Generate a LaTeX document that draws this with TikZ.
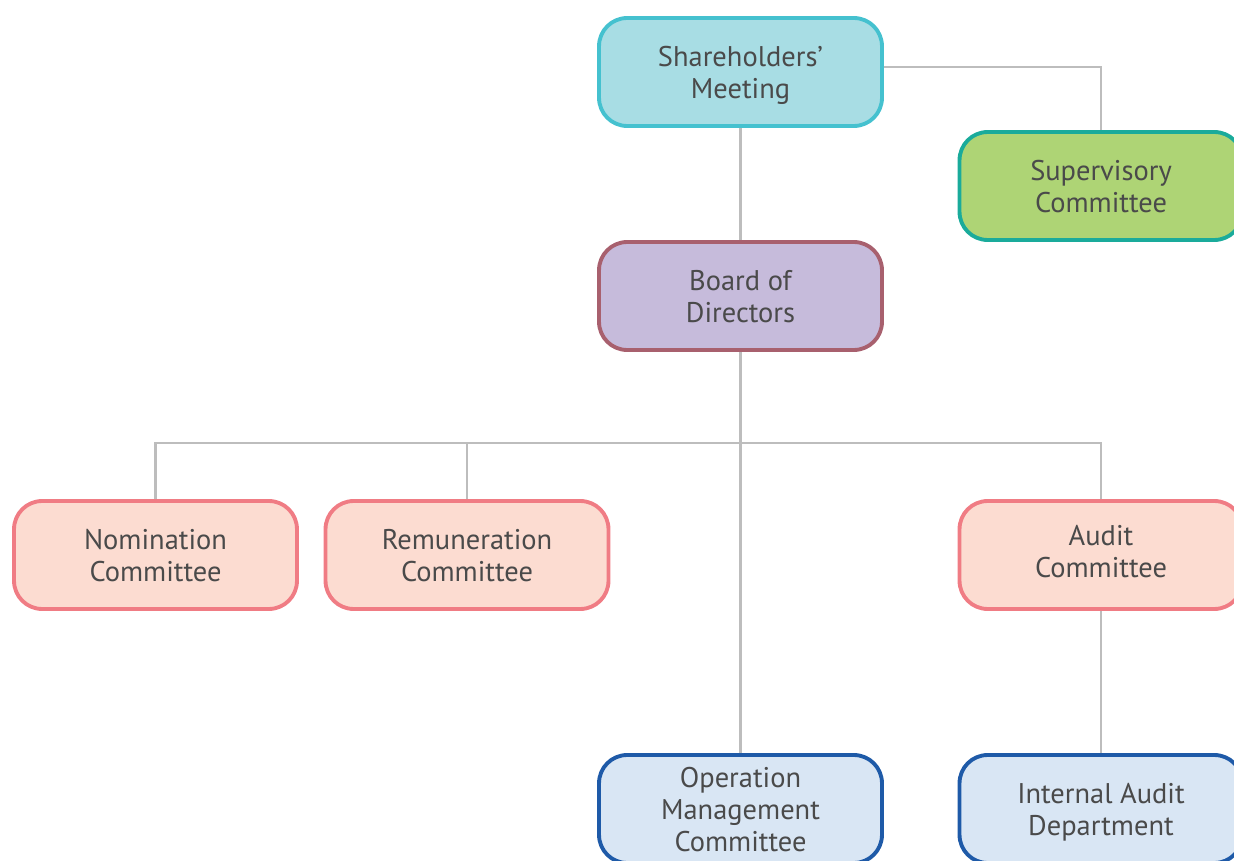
\documentclass[tikz,border=0pt]{standalone}
\usepackage{fontspec}
\setmainfont{PT Sans}
\usetikzlibrary{backgrounds}
\definecolor{txt}{HTML}{4A4A4A}
\definecolor{conn}{HTML}{BDBDBD}
\definecolor{shF}{HTML}{A8DDE4}\definecolor{shD}{HTML}{45C1CF}
\definecolor{suF}{HTML}{AED475}\definecolor{suD}{HTML}{1AAB9B}
\definecolor{boF}{HTML}{C6BBDB}\definecolor{boD}{HTML}{A8606E}
\definecolor{pkF}{HTML}{FCDCD1}\definecolor{pkD}{HTML}{F07C84}
\definecolor{blF}{HTML}{D9E6F4}\definecolor{blD}{HTML}{1E5AA8}
\tikzset{
  orgbox/.style={rectangle, rounded corners=16pt, line width=2.2pt, minimum width=5.66cm, minimum height=2.16cm, inner sep=0pt, align=center, text=txt, text depth=-2pt, font=\fontsize{16.2}{18.2}\selectfont},
  shbox/.style={orgbox, draw=shD, fill=shF},
  subox/.style={orgbox, draw=suD, fill=suF},
  bobox/.style={orgbox, draw=boD, fill=boF},
  pkbox/.style={orgbox, draw=pkD, fill=pkF},
  blbox/.style={orgbox, draw=blD, fill=blF},
  link/.style={draw=conn, line width=1.4pt}
}
\begin{document}
\begin{tikzpicture}[x=0.02cm,y=-0.02cm]
\useasboundingbox (0,0) rectangle (1234,861);
\clip (0,0) rectangle (1234,861);
\node[shbox] (sh) at (740.5,72) {Shareholders’\\Meeting};
\node[subox] (su) at (1101,186) {Supervisory\\Committee};
\node[bobox] (bo) at (740.5,296) {Board of\\Directors};
\node[pkbox] (no) at (155.5,555) {Nomination\\Committee};
\node[pkbox] (re) at (467,555) {Remuneration\\Committee};
\node[pkbox, text depth=4pt] (au) at (1101,555) {Audit\\Committee};
\node[blbox] (op) at (740.5,809) {Operation\\Management\\Committee};
\node[blbox] (ia) at (1101,809) {Internal Audit\\Department};
\coordinate (bus) at (740,443);
\coordinate (shr) at (884,67);
\begin{scope}[on background layer]
  \draw[link] (shr) -| (su.north);
  \draw[link] (sh.south) -- (bo.north);
  \draw[link] (bo.south) -- (op.north);
  \draw[link] (no.north) |- (bus) -| (au.north);
  \draw[link] (re.north) -- (re.north |- bus);
  \draw[link] (au.south) -- (ia.north);
\end{scope}
\end{tikzpicture}
\end{document}
